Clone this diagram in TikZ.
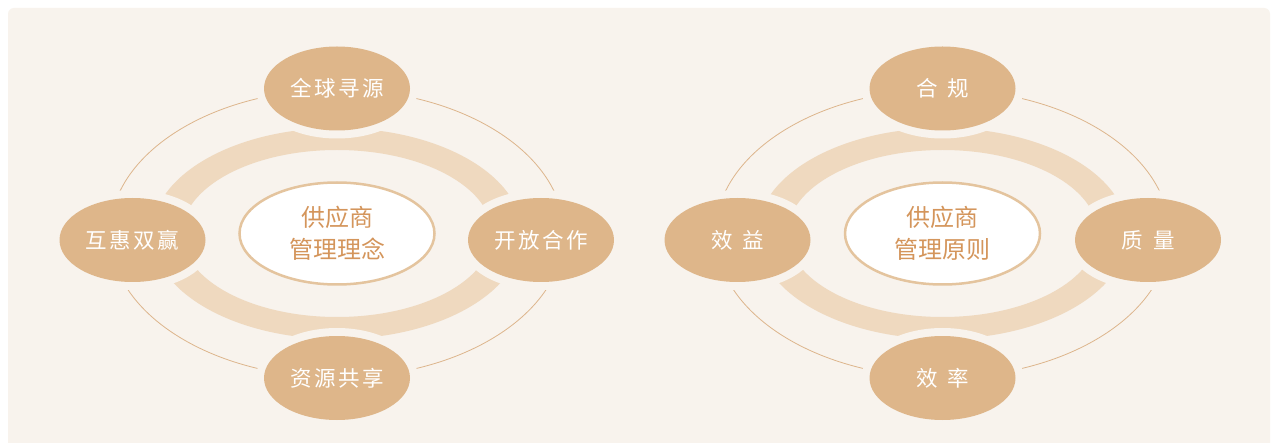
\documentclass[tikz,border=0pt]{standalone}
\usepackage{fontspec}
\newfontfamily\cjk{Noto Sans CJK SC}
\usetikzlibrary{shapes.geometric}
\definecolor{bgc}{HTML}{F8F3ED}
\definecolor{nodec}{HTML}{DEB68A}
\definecolor{bandc}{HTML}{EFD9BF}
\definecolor{linec}{HTML}{DDB58C}
\definecolor{ctext}{HTML}{D4955B}
\definecolor{cborder}{HTML}{E4C49E}
\newcommand\lsp{\kern2.5pt}
\tikzset{
  petal/.style={ellipse, fill=nodec, minimum width=146pt, minimum height=84pt,
    inner sep=0pt, text=white, font=\cjk\fontsize{21.5}{24}\selectfont,
    preaction={draw=bgc, line width=16pt}},
  hub/.style={ellipse, fill=white, draw=cborder, line width=2.5pt,
    minimum width=195pt, minimum height=102pt, inner sep=0pt, text=ctext,
    align=center, font=\cjk\fontsize{24}{32.5}\selectfont},
  thinring/.style={draw=linec, line width=0.8pt},
  band/.style={fill=bandc, even odd rule}
}
\begin{document}
\begin{tikzpicture}[x=1pt,y=-1pt]
\useasboundingbox (0,0) rectangle (1273,443);
\fill[white] (0,0) rectangle (1273,443);
\fill[bgc, rounded corners=6pt] (8,8) rectangle (1270,460);
% ---------- left diagram ----------
\draw[thinring] (337,233.5) ellipse [x radius=227pt, y radius=144pt];
\fill[band] (337,233.5) ellipse [x radius=185pt, y radius=105.5pt]
            (337,233.5) ellipse [x radius=155pt, y radius=83.5pt];
\node[petal] (a1) at (337,88.5) {全\lsp 球\lsp 寻\lsp 源};
\node[petal] (a2) at (132.5,240) {互\lsp 惠\lsp 双\lsp 赢};
\node[petal] (a3) at (541,240) {开\lsp 放\lsp 合\lsp 作};
\node[petal] (a4) at (337,378) {资\lsp 源\lsp 共\lsp 享};
\node[hub] (ac) at (337,233.5) {供应商\\管理理念};
% ---------- right diagram ----------
\draw[thinring] (942.5,233.5) ellipse [x radius=227pt, y radius=144pt];
\fill[band] (942.5,233.5) ellipse [x radius=185pt, y radius=105.5pt]
            (942.5,233.5) ellipse [x radius=155pt, y radius=83.5pt];
\node[petal] (b1) at (942.5,88.5) {合\kern10pt 规};
\node[petal] (b2) at (737.5,240) {效\kern10pt 益};
\node[petal] (b3) at (1148,240) {质\kern10pt 量};
\node[petal] (b4) at (942.5,378) {效\kern10pt 率};
\node[hub] (bc) at (942.5,233.5) {供应商\\管理原则};
\end{tikzpicture}
\end{document}
